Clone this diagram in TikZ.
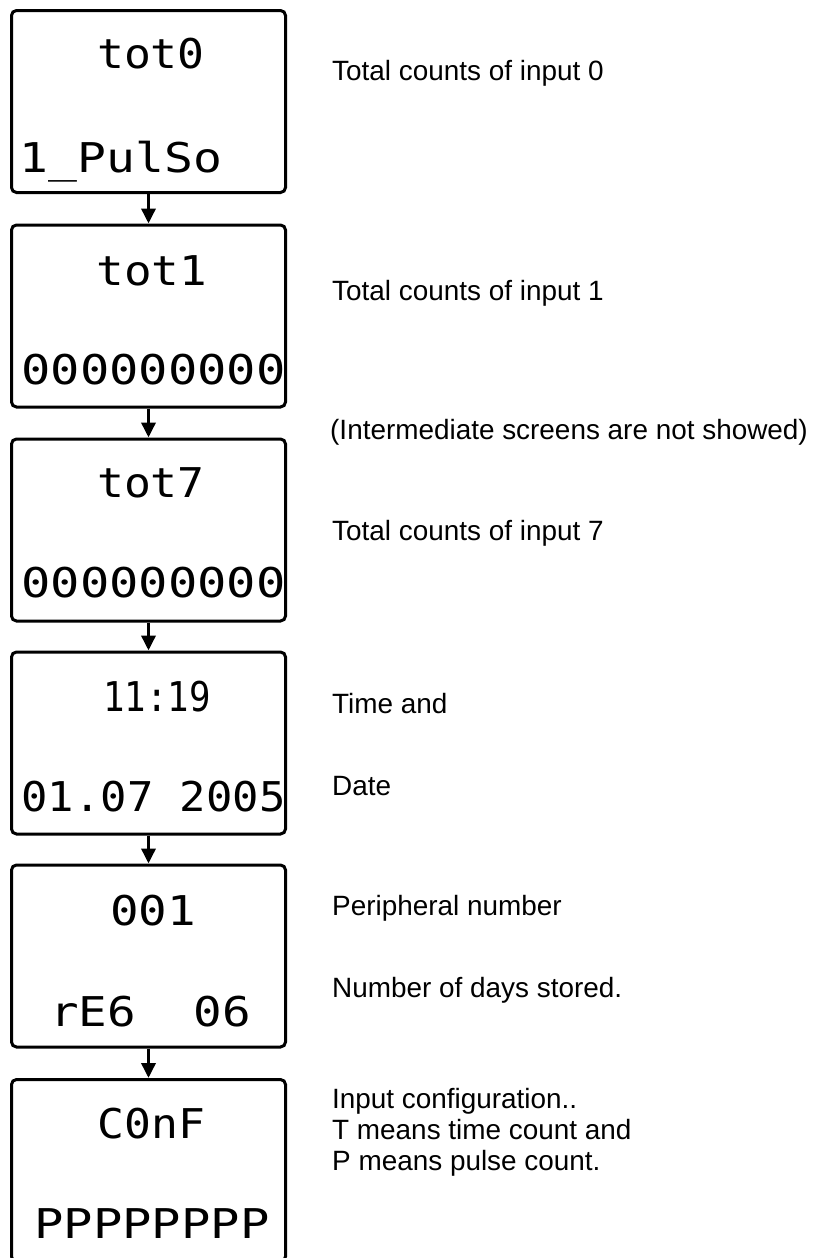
\documentclass[tikz,border=0pt]{standalone}
\usepackage{graphicx}
\usepackage{fontspec}
\setmainfont{Liberation Sans}
\newfontfamily\lcdfont{DejaVu Sans Mono}
\usetikzlibrary{arrows.meta}
\begin{document}
\begin{tikzpicture}[x=1pt,y=-1pt,
  screen/.style={draw, line width=3pt, rounded corners=5pt, minimum width=274pt, minimum height=182pt, inner sep=0pt},
  lcd/.style={font=\lcdfont\fontsize{41}{41}\selectfont, anchor=base, inner sep=0pt},
  note/.style={font=\fontsize{27.9}{33}\selectfont, anchor=base west, inner sep=0pt, align=left},
  flow/.style={line width=3.5pt, -{Triangle[width=14pt,length=15pt]}}]
\useasboundingbox (0,0) rectangle (837,1258);

% screens
\node[screen] (s1) at (148.5,101.5) {};
\node[screen] (s2) at (148.5,316) {};
\node[screen] (s3) at (148.5,530) {};
\node[screen] (s4) at (148.5,743) {};
\node[screen] (s5) at (148.5,956) {};
\node[screen] (s6) at (148.5,1170.5) {};

% connectors
\draw[flow] (s1.south) -- (s2.north);
\draw[flow] (s2.south) -- (s3.north);
\draw[flow] (s3.south) -- (s4.north);
\draw[flow] (s4.south) -- (s5.north);
\draw[flow] (s5.south) -- (s6.north);

% display texts
\node[lcd] (d1a) at (151,68) {\scalebox{1.09}[1]{tot0}};
\node[lcd] (d1b) at (121,172) {\scalebox{1.17}[1]{1\_PulSo}};
\node[lcd] (d2a) at (152,285) {\scalebox{1.12}[1]{tot1}};
\node[lcd] (d2b) at (153.5,384) {\scalebox{1.19}[1]{000000000}};
\node[lcd] (d3a) at (151,497) {\scalebox{1.09}[1]{tot7}};
\node[lcd] (d3b) at (153.5,597) {\scalebox{1.19}[1]{000000000}};
\node[lcd] (d4a) at (157,711) {\scalebox{0.87}[1]{11:19}};
\node[lcd] (d4b) at (153.5,811) {\scalebox{1.07}[1]{01.07~2005}};
\node[lcd] (d5a) at (153,925) {\scalebox{1.16}[1]{001}};
\node[lcd] (d5b) at (150.5,1026) {\scalebox{1.16}[1]{rE6~~06}};
\node[lcd] (d6a) at (151.5,1138) {\scalebox{1.09}[1]{C0nF}};
\node[lcd] (d6b) at (152,1238) {\scalebox{1.19}[1]{PPPPPPPP}};

% notes
\node[note] (n1) at (332,80) {Total counts of input 0};
\node[note] (n2) at (332,300) {Total counts of input 1};
\node[note] (n3) at (330,439) {(Intermediate screens are not showed)};
\node[note] (n4) at (332,540) {Total counts of input 7};
\node[note] (n5) at (332,713) {Time and};
\node[note] (n6) at (332,795) {Date};
\node[note] (n7) at (332,915) {Peripheral number};
\node[note] (n8) at (332,997) {Number of days stored.};
\node[note] (n9) at (332,1108) {Input configuration..};
\node[note] (n10) at (332,1139) {T means time count and};
\node[note] (n11) at (332,1170) {P means pulse count.};
\end{tikzpicture}
\end{document}
